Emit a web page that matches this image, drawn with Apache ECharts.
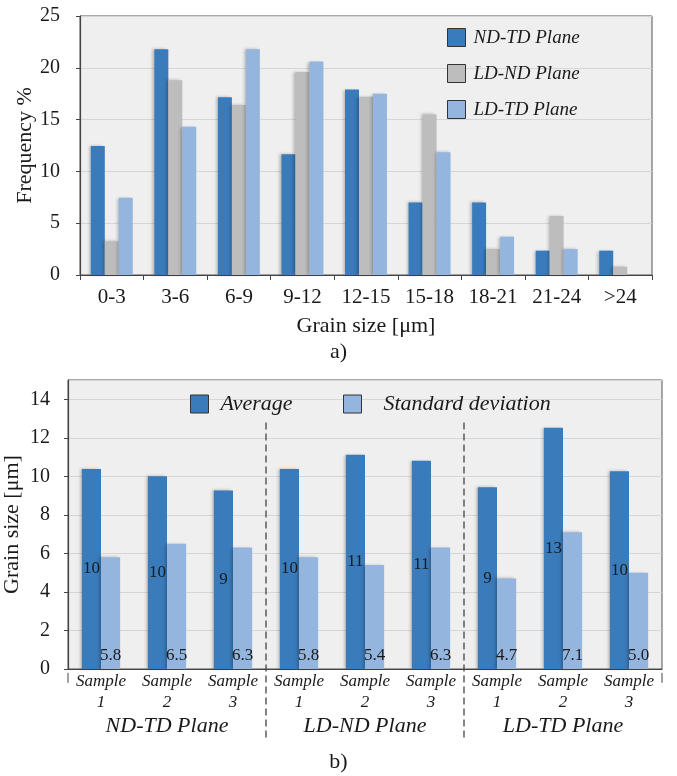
<!DOCTYPE html>
<html>
<head>
<meta charset="utf-8">
<script src="https://cdn.jsdelivr.net/npm/echarts@6/dist/echarts.min.js"></script>
<style>html,body{margin:0;padding:0;background:#fff;}#c{width:677px;height:776px;}</style>
</head>
<body>
<div id="c"></div>
<script>
// ---- Chart a) data ----
const sizeBins = ['0-3','3-6','6-9','9-12','12-15','15-18','18-21','21-24','>24'];
const ndtdFreq = [12.45, 21.8, 17.15, 11.65, 17.9, 7.0, 7.0, 2.35, 2.35];
const ldndFreq = [3.25, 18.8, 16.4, 19.6, 17.2, 15.5, 2.5, 5.7, 0.8];
const ldtdFreq = [7.45, 14.3, 21.8, 20.6, 17.5, 11.85, 3.7, 2.5, 0];
const freqTicks = [0, 5, 10, 15, 20, 25];

// ---- Chart b) data ----
const sampleLabels = ['Sample\n1','Sample\n2','Sample\n3','Sample\n1','Sample\n2','Sample\n3','Sample\n1','Sample\n2','Sample\n3'];
const planeLabels = ['ND-TD Plane','LD-ND Plane','LD-TD Plane'];
const avgSize = [10.38, 10.0, 9.27, 10.38, 11.12, 10.81, 9.43, 12.52, 10.26];
const stdSize = [5.8, 6.5, 6.3, 5.8, 5.4, 6.3, 4.7, 7.1, 5.0];
const sizeTicks = [0, 2, 4, 6, 8, 10, 12, 14];
// group boundaries (in category units) for the dashed separators and end ticks
const groupSeparators = [3, 6];
const axisEnds = [0, 9];

const FONT = '"Liberation Serif", "Times New Roman", serif';
const C_DARK = '#3a7bbb';
const C_GRAY = '#bdbdbd';
const C_LIGHT = '#94b6de';
const TXT = '#1a1a1a';
const shadow = {shadowColor:'rgba(0,0,0,0.25)', shadowBlur:3, shadowOffsetX:-2};

const legendText = (pad) => ({fontFamily:FONT, fontStyle:'italic', fontSize:22, color:TXT, padding:[0,0,0,pad]});

const chart = echarts.init(document.getElementById('c'), null, {renderer:'canvas'});
chart.setOption({
  backgroundColor:'#fff',
  animation:false,
  title:[
    {text:'a)', left:'center', top:336, textStyle:{fontFamily:FONT, fontSize:22, fontWeight:'normal', color:TXT}},
    {text:'b)', left:'center', top:746, textStyle:{fontFamily:FONT, fontSize:22, fontWeight:'normal', color:TXT}}
  ],
  legend:[
    {data:['ND-TD Plane','LD-ND Plane','LD-TD Plane'], orient:'vertical', left:442, top:23,
     itemWidth:18, itemHeight:18, itemGap:17, icon:'rect',
     itemStyle:{borderColor:'#333', borderWidth:1},
     textStyle:{fontFamily:FONT, fontStyle:'italic', fontSize:19, color:TXT, padding:[0,0,0,3]}},
    {data:['Average'], orient:'horizontal', left:185, top:388,
     itemWidth:18, itemHeight:18, icon:'rect',
     itemStyle:{borderColor:'#333', borderWidth:1},
     textStyle:legendText(7)},
    {data:['Standard deviation'], orient:'horizontal', left:338, top:388,
     itemWidth:18, itemHeight:18, icon:'rect',
     itemStyle:{borderColor:'#333', borderWidth:1},
     textStyle:legendText(17)}
  ],
  grid:[
    {left:80, top:16, width:572, height:259, show:true, backgroundColor:'#efefef', borderColor:'#555', borderWidth:1,
     containLabel:false, outerBoundsMode:'none'},
    {left:68, top:380, width:594, height:289, show:true, backgroundColor:'#efefef', borderColor:'#555', borderWidth:1,
     containLabel:false, outerBoundsMode:'none'}
  ],
  xAxis:[
    {type:'category', gridIndex:0, data:sizeBins,
     axisLine:{lineStyle:{color:'#444', width:1.2}},
     axisTick:{show:true, length:5, lineStyle:{color:'#444'}},
     axisLabel:{fontFamily:FONT, fontSize:21, color:TXT, margin:12, interval:0},
     name:'Grain size [μm]', nameLocation:'middle', nameGap:40, nameMoveOverlap:false,
     nameTextStyle:{fontFamily:FONT, fontSize:22, color:TXT}},
    {type:'category', gridIndex:1, data:sampleLabels,
     axisLine:{lineStyle:{color:'#444', width:1.2}},
     axisTick:{show:false},
     axisLabel:{fontFamily:FONT, fontStyle:'italic', fontSize:17, lineHeight:21, color:TXT, margin:2, interval:0}},
    {type:'category', gridIndex:1, data:planeLabels, position:'bottom', offset:46,
     axisLine:{show:false}, axisTick:{show:false},
     axisLabel:{fontFamily:FONT, fontStyle:'italic', fontSize:22, color:TXT, margin:0}},
    {type:'value', gridIndex:1, min:0, max:9, show:false}
  ],
  yAxis:[
    {type:'value', gridIndex:0, min:freqTicks[0], max:freqTicks[freqTicks.length-1], interval:5,
     axisLine:{show:true, lineStyle:{color:'#444', width:1.2}},
     axisTick:{show:true, length:4, lineStyle:{color:'#444'}},
     splitLine:{lineStyle:{color:'#d6d6d6', width:1}},
     axisLabel:{fontFamily:FONT, fontSize:20, color:TXT, margin:20},
     name:'Frequency %', nameLocation:'middle', nameGap:44, nameRotate:90, nameMoveOverlap:false,
     nameTextStyle:{fontFamily:FONT, fontSize:22, color:TXT}},
    {type:'value', gridIndex:1, min:sizeTicks[0], max:15, interval:2,
     axisLine:{show:true, lineStyle:{color:'#444', width:1.2}},
     axisTick:{show:true, length:4, lineStyle:{color:'#444'}},
     splitLine:{lineStyle:{color:'#d6d6d6', width:1}},
     axisLabel:{fontFamily:FONT, fontSize:20, color:TXT, margin:18, showMaxLabel:false},
     name:'Grain size [μm]', nameLocation:'middle', nameGap:45, nameRotate:90, nameMoveOverlap:false,
     nameTextStyle:{fontFamily:FONT, fontSize:22, color:TXT}}
  ],
  series:[
    {name:'ND-TD Plane', type:'bar', xAxisIndex:0, yAxisIndex:0, data:ndtdFreq,
     barGap:'0%', barCategoryGap:'34%', itemStyle:Object.assign({color:C_DARK}, shadow)},
    {name:'LD-ND Plane', type:'bar', xAxisIndex:0, yAxisIndex:0, data:ldndFreq,
     itemStyle:Object.assign({color:C_GRAY}, shadow)},
    {name:'LD-TD Plane', type:'bar', xAxisIndex:0, yAxisIndex:0, data:ldtdFreq,
     itemStyle:Object.assign({color:C_LIGHT}, shadow)},
    {name:'Average', type:'bar', xAxisIndex:1, yAxisIndex:1, data:avgSize,
     barGap:'0%', barCategoryGap:'42%', itemStyle:Object.assign({color:C_DARK}, shadow),
     label:{show:true, position:'inside', fontFamily:FONT, fontSize:17, color:TXT,
            formatter:p=>String(Math.round(p.value))}},
    {name:'Standard deviation', type:'bar', xAxisIndex:1, yAxisIndex:1, data:stdSize,
     itemStyle:Object.assign({color:C_LIGHT}, shadow),
     label:{show:true, position:'insideBottom', distance:5, fontFamily:FONT, fontSize:17, color:TXT,
            formatter:p=>p.value.toFixed(1)}},
    {name:'separators', type:'custom', xAxisIndex:3, yAxisIndex:1, silent:true, clip:false, z:5,
     data:groupSeparators.map(v=>[v,0]), encode:{x:0, y:1},
     renderItem:(params, api)=>{
       const x = api.value(0);
       const p1 = api.coord([x, 12.8]);
       const p2 = api.coord([x, -3.7]);
       return {type:'line', shape:{x1:p1[0], y1:p1[1], x2:p2[0], y2:p2[1]},
               style:{stroke:'#444', lineWidth:1.3, lineDash:[7,4]}};
     }},
    {name:'endTicks', type:'custom', xAxisIndex:3, yAxisIndex:1, silent:true, clip:false, z:5,
     data:axisEnds.map(v=>[v,0]), encode:{x:0, y:1},
     renderItem:(params, api)=>{
       const x = api.value(0);
       const p1 = api.coord([x, -0.2]);
       const p2 = api.coord([x, -0.72]);
       return {type:'line', shape:{x1:p1[0], y1:p1[1], x2:p2[0], y2:p2[1]},
               style:{stroke:'#444', lineWidth:1}};
     }}
  ]
});
</script>
</body>
</html>
